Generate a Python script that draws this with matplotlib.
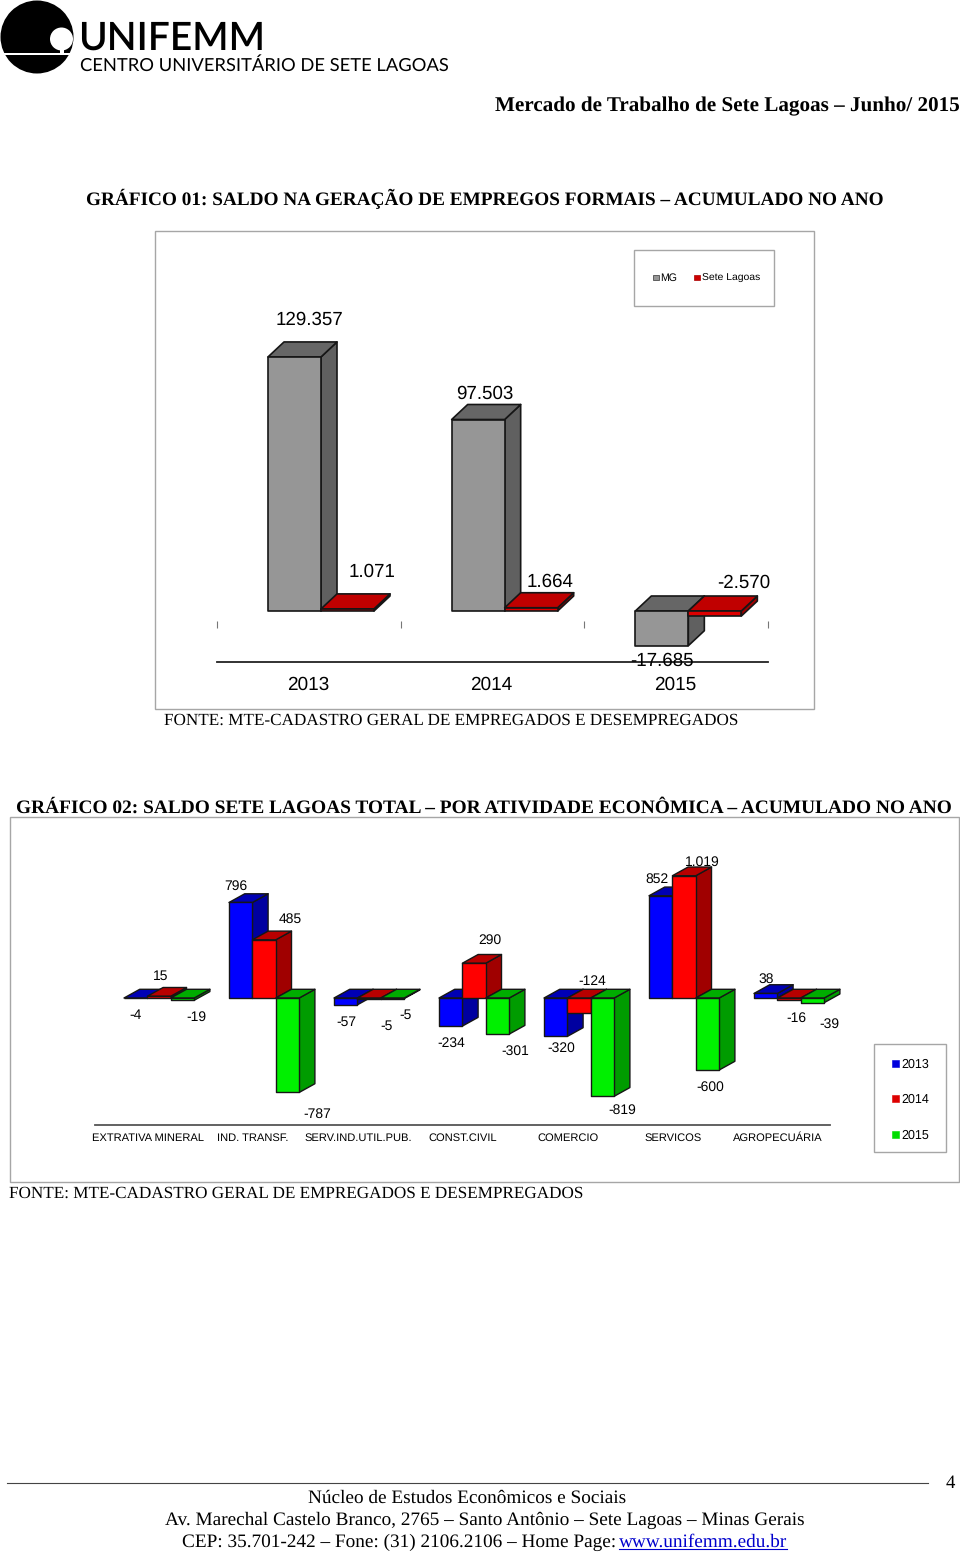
import matplotlib
matplotlib.use("Agg")
import matplotlib.pyplot as plt
from matplotlib.patches import Circle, Polygon, Rectangle

plt.rcParams["text.hinting"] = "no_hinting"

W, H = 960, 1553
SERIF = "Liberation Serif"
SANS = "Liberation Sans"

# grafico 01
years = ["2013", "2014", "2015"]
mg = [129357, 97503, -17685]
sete_lagoas = [1071, 1664, -2570]

# grafico 02
atividades = ["EXTRATIVA MINERAL", "IND. TRANSF.", "SERV.IND.UTIL.PUB.", "CONST.CIVIL",
              "COMERCIO", "SERVICOS", "AGROPECUÁRIA"]
saldo_2013 = [-4, 796, -57, -234, -320, 852, 38]
saldo_2014 = [15, 485, -5, 290, -124, 1019, -16]
saldo_2015 = [-19, -787, -5, -301, -819, -600, -39]

# label centres in page pixels, in the same order as the values
label_pos_1 = [(309, 319), (485, 393), (662, 660), (372, 571), (550, 581), (744, 582)]
label_pos_2 = [(136, 1014), (236, 885), (346, 1021), (451, 1042), (561, 1047), (657, 878), (766, 978),
               (161, 975), (290, 918), (387, 1025), (490, 939), (592, 980), (702, 861), (796, 1017),
               (196, 1016), (317, 1113), (406, 1014), (515, 1050), (622, 1109), (710, 1086), (829, 1023)]


def fmt(v):
    return f"{v:,}".replace(",", ".")


def px_axes(fig, left, top, right, bottom):
    ax = fig.add_axes([left / W, 1 - bottom / H, (right - left) / W, (bottom - top) / H])
    ax.axis("off")
    return ax


def bar3d(ax, x, v, w, dx, dy, front, side, top, lw=1.0):
    ec = "#161616"
    hi = max(v, 0)
    lo = min(v, 0)
    ax.add_patch(Polygon([(x + w, lo), (x + w + dx, lo + dy), (x + w + dx, hi + dy), (x + w, hi)],
                         fc=side, ec=ec, lw=lw, joinstyle="round", clip_on=False))
    ax.add_patch(Polygon([(x, hi), (x + dx, hi + dy), (x + w + dx, hi + dy), (x + w, hi)],
                         fc=top, ec=ec, lw=lw, joinstyle="round", clip_on=False))
    ax.add_patch(Rectangle((x, lo), w, hi - lo, fc=front, ec=ec, lw=lw, joinstyle="round", clip_on=False))


fig = plt.figure(figsize=(W / 100, H / 100), dpi=100, facecolor="white")

# --- grafico 01 ---
scale1 = 0.001964  # px per unit
ax1 = px_axes(fig, 217, 232, 768, 662)
ax1.set_xlim(0, 3)
ax1.set_ylim(-(662 - 611) / scale1, (611 - 232) / scale1)
cat1 = 551 / 3
dx1, dy1 = 16 / cat1, 15 / scale1
for i in range(3):
    bar3d(ax1, i + 51 / cat1, mg[i], 53 / cat1, dx1, dy1, "#969696", "#606060", "#666666", lw=1.2)
    bar3d(ax1, i + 104 / cat1, sete_lagoas[i], 53 / cat1, dx1, dy1, "#dd0000", "#a00000", "#c00000", lw=1.2)
ax1.vlines(range(4), -17 / scale1 * 0.98, -10 / scale1, color="#777777", lw=0.8, clip_on=False)
ax1.plot([0, 3], [ax1.get_ylim()[0]] * 2, color="#222222", lw=1.3, clip_on=False)

# --- grafico 02 ---
scale2 = 0.12
ax2 = px_axes(fig, 95, 830, 830, 1125)
ax2.set_xlim(0, 7)
ax2.set_ylim(-(1125 - 998) / scale2, (998 - 830) / scale2)
cat2 = 105
dx2, dy2 = 15.7 / cat2, 8.7 / scale2
w2 = 23.4 / cat2
series = [(saldo_2013, "#0000ff", "#0000a0", "#0000b4"),
          (saldo_2014, "#ff0000", "#a00000", "#b80000"),
          (saldo_2015, "#00f000", "#009c00", "#00ac00")]
for i in range(7):
    for j, (vals, front, side, top) in enumerate(series):
        bar3d(ax2, i + (29 / cat2) + j * w2, vals[i], w2, dx2, dy2, front, side, top)
ax2.plot([0, 7], [ax2.get_ylim()[0]] * 2, color="#555555", lw=1.3, clip_on=False)

# --- page layer ---
pg = px_axes(fig, 0, 0, W, H)
pg.set_xlim(0, W)
pg.set_ylim(H, 0)
pg.set_zorder(5)


def txt(x, y, s, size, ha="center", family=SERIF, weight="normal", color="black", **kw):
    # va=center sits a little high against the reference, so nudge it down
    return pg.text(x, y + 1.3, s, fontsize=size, ha=ha, va="center", family=family, weight=weight,
                   color=color, **kw)


# logo
pg.add_patch(Circle((37, 37), 36.5, fc="black", ec="none"))
pg.add_patch(Circle((61.5, 39), 11.5, fc="white", ec="none"))
pg.add_patch(Rectangle((60, 48), 3.5, 5, fc="white", ec="none"))
pg.add_patch(Rectangle((3, 52.7), 70, 2.3, fc="white", ec="none"))
txt(78, 37.2, "UNIFEMM", 28, ha="left", family="Lato", weight="semibold")
txt(80, 64, "CENTRO UNIVERSITÁRIO DE SETE LAGOAS", 13.2, ha="left", family="Lato")

txt(960, 105, "Mercado de Trabalho de Sete Lagoas – Junho/ 2015", 15.23, ha="right", weight="bold")
txt(484.5, 198, "GRÁFICO 01: SALDO NA GERAÇÃO DE EMPREGOS FORMAIS – ACUMULADO NO ANO", 13.89, weight="bold")
txt(484, 807, "GRÁFICO 02: SALDO SETE LAGOAS TOTAL – POR ATIVIDADE ECONÔMICA – ACUMULADO NO ANO", 13.96, weight="bold")

# frames
pg.add_patch(Rectangle((155, 231), 659, 478, fc="none", ec="#a6a6a6", lw=1))
pg.add_patch(Rectangle((10, 817), 949, 365, fc="none", ec="#a6a6a6", lw=1))
pg.add_patch(Rectangle((634, 250), 140, 56, fc="none", ec="#a6a6a6", lw=1))
pg.add_patch(Rectangle((874, 1044), 72, 108, fc="none", ec="#a6a6a6", lw=1))

# chart 1 texts
for (x, y), v in zip(label_pos_1, mg + sete_lagoas):
    txt(x, y, fmt(v), 13.5, family=SANS)
for yr, x in zip(years, [309, 492, 676]):
    txt(x - 0.5, 684, yr, 13.7, family=SANS)
pg.add_patch(Rectangle((653, 274.5), 6, 5.5, fc="#969696", ec="#333333", lw=0.5))
txt(660, 277, "MG", 7.6, ha="left", family=SANS)
pg.add_patch(Rectangle((694, 274.5), 6, 5.5, fc="#cc0000", ec="#aa0000", lw=0.5))
txt(702, 277, "Sete Lagoas", 7.5, ha="left", family=SANS)
txt(164, 719, "FONTE: MTE-CADASTRO GERAL DE EMPREGADOS E DESEMPREGADOS", 12.36, ha="left")

# chart 2 texts
for (x, y), v in zip(label_pos_2, saldo_2013 + saldo_2014 + saldo_2015):
    txt(x, y, fmt(v), 10, family=SANS)
for i, name in enumerate(atividades):
    txt(95 + cat2 * (i + 0.5) + 0.5, 1137, name, 8.0, family=SANS)
for yr, y, c in zip(years, [1063, 1098, 1134], ["#0000dd", "#dd0000", "#00dd00"]):
    pg.add_patch(Rectangle((892, y - 3.5), 7, 7, fc=c, ec=c, lw=0.4))
    txt(901, y, yr, 9, ha="left", family=SANS)
txt(9, 1192, "FONTE: MTE-CADASTRO GERAL DE EMPREGADOS E DESEMPREGADOS", 12.36, ha="left")

# footer
pg.plot([7, 928], [1483, 1483], color="#444444", lw=0.8)
txt(950, 1482, "4", 13.5)
txt(467, 1497, "Núcleo de Estudos Econômicos e Sociais", 13.89)
txt(484.5, 1519, "Av. Marechal Castelo Branco, 2765 – Santo Antônio – Sete Lagoas – Minas Gerais", 13.89)
txt(182, 1541, "CEP: 35.701-242 – Fone: (31) 2106.2106 – Home Page: ", 13.89, ha="left")
txt(619, 1541, "www.unifemm.edu.br", 13.89, ha="left", color="#0000cc")
pg.plot([619, 787], [1549, 1549], color="#0000cc", lw=0.8)

fig.savefig("out.png", dpi=100)
